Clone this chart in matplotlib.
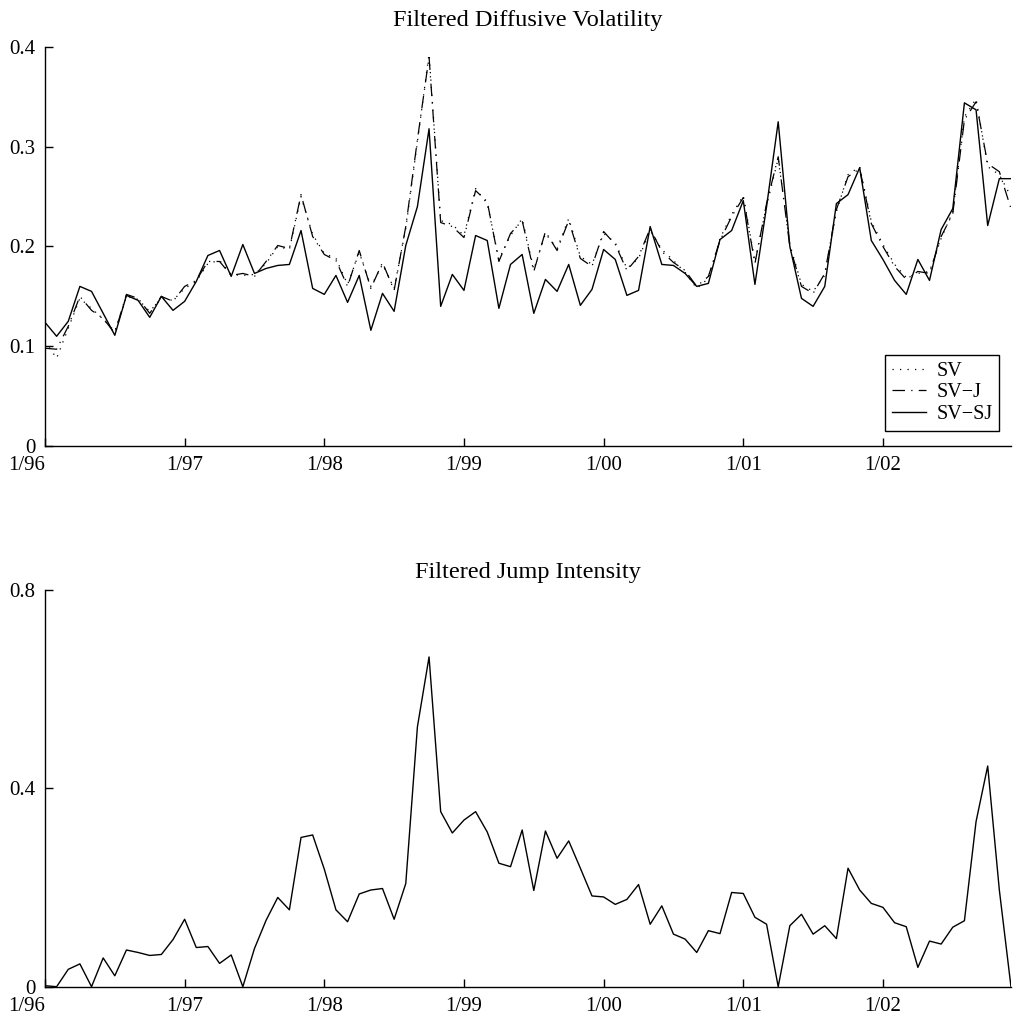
import numpy as np
import matplotlib
matplotlib.use('Agg')
import matplotlib.pyplot as plt

# monthly filtered estimates, 1/96 .. 12/02
sv = [0.105, 0.088, 0.118, 0.148, 0.138, 0.127, 0.115, 0.150, 0.147, 0.135, 0.148, 0.146,
      0.158, 0.165, 0.183, 0.186, 0.172, 0.171, 0.172, 0.183, 0.200, 0.197, 0.250, 0.212,
      0.193, 0.188, 0.162, 0.194, 0.160, 0.182, 0.158, 0.218, 0.305, 0.393, 0.226, 0.222,
      0.211, 0.258, 0.243, 0.187, 0.211, 0.228, 0.177, 0.213, 0.198, 0.228, 0.190, 0.182,
      0.213, 0.204, 0.178, 0.188, 0.216, 0.197, 0.186, 0.174, 0.158, 0.168, 0.208, 0.232,
      0.251, 0.185, 0.241, 0.288, 0.202, 0.162, 0.155, 0.171, 0.235, 0.272, 0.280, 0.225,
      0.202, 0.182, 0.169, 0.173, 0.175, 0.208, 0.235, 0.330, 0.348, 0.280, 0.272, 0.250]

sv_j = [0.098, 0.097, 0.120, 0.150, 0.136, 0.128, 0.113, 0.152, 0.148, 0.133, 0.150, 0.145,
        0.160, 0.166, 0.185, 0.185, 0.171, 0.173, 0.170, 0.185, 0.201, 0.198, 0.252, 0.210,
        0.192, 0.186, 0.160, 0.196, 0.158, 0.184, 0.156, 0.220, 0.307, 0.390, 0.224, 0.220,
        0.209, 0.256, 0.245, 0.185, 0.213, 0.226, 0.175, 0.215, 0.196, 0.226, 0.188, 0.180,
        0.215, 0.202, 0.176, 0.190, 0.218, 0.195, 0.184, 0.176, 0.160, 0.170, 0.206, 0.230,
        0.249, 0.183, 0.243, 0.290, 0.200, 0.160, 0.153, 0.173, 0.237, 0.270, 0.278, 0.223,
        0.200, 0.180, 0.167, 0.175, 0.173, 0.210, 0.233, 0.327, 0.345, 0.283, 0.275, 0.238]

sv_sj = [0.124, 0.110, 0.125, 0.160, 0.155, 0.133, 0.111, 0.151, 0.146, 0.129, 0.150, 0.136,
         0.145, 0.165, 0.191, 0.196, 0.170, 0.202, 0.173, 0.178, 0.181, 0.182, 0.216, 0.158,
         0.152, 0.171, 0.144, 0.171, 0.116, 0.153, 0.135, 0.201, 0.240, 0.318, 0.140, 0.172,
         0.156, 0.211, 0.206, 0.138, 0.182, 0.192, 0.133, 0.167, 0.155, 0.182, 0.141, 0.157,
         0.197, 0.187, 0.151, 0.156, 0.220, 0.182, 0.181, 0.173, 0.160, 0.163, 0.207, 0.216,
         0.246, 0.162, 0.240, 0.325, 0.200, 0.148, 0.140, 0.160, 0.243, 0.252, 0.279, 0.206,
         0.187, 0.166, 0.152, 0.187, 0.166, 0.217, 0.238, 0.344, 0.337, 0.221, 0.268, 0.268]

jump = [0.002, 0.000, 0.035, 0.046, 0.000, 0.058, 0.022, 0.074, 0.069, 0.063, 0.065, 0.095,
        0.136, 0.079, 0.081, 0.047, 0.064, 0.000, 0.077, 0.134, 0.180, 0.155, 0.301, 0.306,
        0.237, 0.155, 0.131, 0.187, 0.195, 0.198, 0.136, 0.208, 0.524, 0.665, 0.353, 0.310,
        0.336, 0.353, 0.312, 0.249, 0.242, 0.316, 0.194, 0.314, 0.259, 0.294, 0.239, 0.183,
        0.181, 0.166, 0.176, 0.206, 0.126, 0.163, 0.106, 0.096, 0.069, 0.113, 0.107, 0.190,
        0.188, 0.140, 0.126, 0.000, 0.123, 0.146, 0.106, 0.123, 0.097, 0.239, 0.195, 0.168,
        0.160, 0.129, 0.121, 0.039, 0.092, 0.086, 0.120, 0.133, 0.333, 0.445, 0.195, 0.000]

year_labels = ['1/96', '1/97', '1/98', '1/99', '1/00', '1/01', '1/02']
top_yticks = [0, 0.1, 0.2, 0.3, 0.4]
top_ylabels = ['0', '0.1', '0.2', '0.3', '0.4']
bot_yticks = [0, 0.4, 0.8]
bot_ylabels = ['0', '0.4', '0.8']

plt.rcParams['font.family'] = ['Liberation Serif', 'DejaVu Serif']
plt.rcParams['font.size'] = 15

months = np.arange(len(sv))
year_ticks = months[::12]


def style_axes(ax, yticks, ylabels, ymax):
    ax.set_xlim(0, months[-1])
    ax.set_ylim(0, ymax)
    ax.spines['top'].set_visible(False)
    ax.spines['right'].set_visible(False)
    for s in ('left', 'bottom'):
        ax.spines[s].set_linewidth(1.0)
    ax.set_xticks(year_ticks)
    ax.set_xticklabels(year_labels)
    ax.set_yticks(yticks)
    ax.set_yticklabels(ylabels)
    ax.tick_params(direction='in', length=6, width=1.0, labelsize=15)
    ax.tick_params(axis='x', pad=7.5)
    ax.tick_params(axis='y', pad=7)
    # first year label sits left of the axis corner, as in the original
    ax.get_xticklabels()[0].set_horizontalalignment('right')


fig = plt.figure(figsize=(10.13, 10.19), dpi=100)

ax = fig.add_axes([0.0444, 0.5623, 0.9536, 0.3916])
ax.plot(months, sv, 'k', linestyle=(0, (1, 5)), lw=0.9, label='SV')
ax.plot(months, sv_j, 'k', linestyle=(0, (10, 5, 1, 5)), lw=0.9, label='SV\u2212J')
ax.plot(months, sv_sj, 'k-', lw=1.0, label='SV\u2212SJ')
style_axes(ax, top_yticks, top_ylabels, 0.4)
ax.set_title('Filtered Diffusive Volatility', fontsize=17.5, pad=15)
leg = ax.legend(loc='lower right', bbox_to_anchor=(0.988, 0.0376), borderaxespad=0,
                fancybox=False, edgecolor='k', framealpha=1, fontsize=14.5,
                handlelength=1.7, handletextpad=0.5, borderpad=0.35,
                labelspacing=0.12)
leg.get_frame().set_linewidth(1.0)

ax2 = fig.add_axes([0.0444, 0.0317, 0.9536, 0.3893])
ax2.plot(months, jump, 'k-', lw=1.0)
style_axes(ax2, bot_yticks, bot_ylabels, 0.8)
ax2.set_title('Filtered Jump Intensity', fontsize=17.5, pad=9)

fig.savefig('out.png', dpi=100)
